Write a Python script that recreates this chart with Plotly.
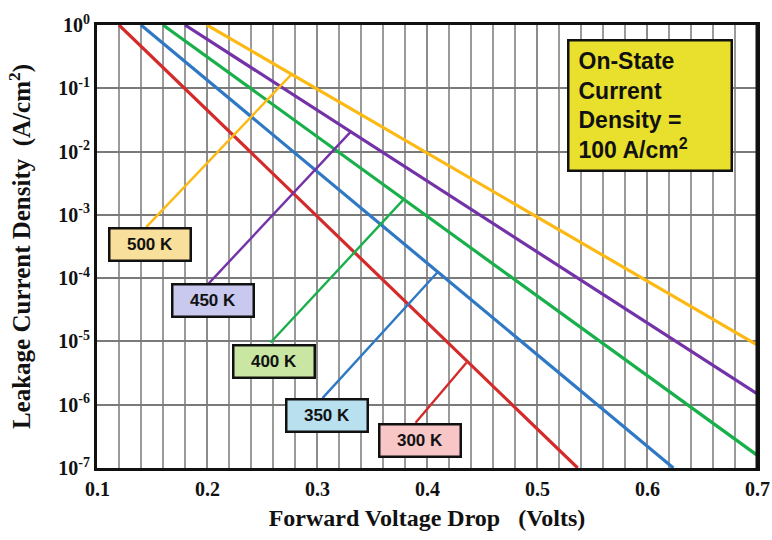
import numpy as np
import plotly.graph_objects as go

# Leakage current density vs forward voltage drop, one straight line (on log scale) per temperature
temps = ["300 K", "350 K", "400 K", "450 K", "500 K"]
colors = ["#D42A2A", "#2F78C4", "#19B04B", "#7432A8", "#FDB913"]
box_fills = ["#F8C6C6", "#B9E0EF", "#C9E6A2", "#C9C8EE", "#F8DF9C"]

v_start = [0.12, 0.14, 0.16, 0.18, 0.20]
j_start = [1.0, 1.0, 1.0, 1.0, 1.0]
v_end = [0.537, 0.624, 0.70, 0.70, 0.70]
j_end = [1e-7, 1e-7, 1.6e-7, 1.5e-6, 8.8e-6]

# leader lines from each label box to its curve
lead_v0 = [0.3896, 0.305, 0.2578, 0.2014, 0.1447]
lead_j0 = [5.2e-7, 1.27e-6, 9.6e-6, 8.2e-5, 6.4e-4]
lead_v1 = [0.4358, 0.410, 0.379, 0.331, 0.277]
lead_j1 = [4.6e-6, 1.26e-4, 1.77e-3, 2.08e-2, 0.167]

# label box centres
label_v = [0.3936, 0.309, 0.2608, 0.2053, 0.1486]
label_j = [2.75e-7, 6.7e-7, 4.86e-6, 4.37e-5, 3.37e-4]

x_ticks = [0.1, 0.2, 0.3, 0.4, 0.5, 0.6, 0.7]
y_exps = [0, -1, -2, -3, -4, -5, -6, -7]

fig = go.Figure()

for i in range(len(temps)):
    fig.add_trace(go.Scatter(
        x=[v_start[i], v_end[i]], y=[j_start[i], j_end[i]],
        mode="lines", line=dict(color=colors[i], width=3.2),
        name=temps[i], showlegend=False, hoverinfo="skip"))
    fig.add_trace(go.Scatter(
        x=[lead_v0[i], lead_v1[i]], y=[lead_j0[i], lead_j1[i]],
        mode="lines", line=dict(color=colors[i], width=2.4),
        showlegend=False, hoverinfo="skip"))
    fig.add_annotation(
        x=label_v[i], y=np.log10(label_j[i]), xref="x", yref="y",
        text="<b>" + temps[i] + "</b>", showarrow=False,
        font=dict(family="Liberation Sans", size=17, color="#111111"),
        bgcolor=box_fills[i], bordercolor="#111111", borderwidth=2.5,
        borderpad=1, width=77, height=28, xanchor="center", yanchor="middle")

fig.add_annotation(
    x=0.6028, y=-1.268, xref="x", yref="y",
    text="<b>On-State<br>Current<br>Density =<br>100 A/cm<sup>2</sup></b>",
    showarrow=False, align="left",
    font=dict(family="Liberation Sans", size=23, color="#111111"),
    bgcolor="#E8E02C", bordercolor="#111111", borderwidth=2.5,
    borderpad=9, width=143, height=110, xanchor="center", yanchor="middle")

serif_bold = dict(family="Liberation Serif", size=20, color="#111111", weight="bold")

# x tick labels written beneath the axis so the last one may sit past the frame
for v in x_ticks:
    fig.add_annotation(
        x=v, y=0, xref="x", yref="paper", text=f"{v:.1f}", showarrow=False,
        font=serif_bold, xanchor="center", yanchor="middle", yshift=-21)

# right-hand edge of the heavy frame
fig.add_shape(type="line", xref="paper", yref="paper", x0=1, x1=1, y0=0, y1=1,
              line=dict(color="#111111", width=3), layer="above")

fig.update_layout(
    width=772, height=540,
    margin=dict(l=97, r=12, t=16, b=72),
    paper_bgcolor="white", plot_bgcolor="white",
    xaxis=dict(
        range=[0.1, 0.7], tickvals=x_ticks, showticklabels=False,
        showgrid=True, gridcolor="#8C8C8C", gridwidth=1.5,
        minor=dict(dtick=0.02, tick0=0.1, showgrid=True, gridcolor="#9A9A9A", gridwidth=1.5),
        showline=True, linecolor="#111111", linewidth=3, mirror=True,
        ticks="", zeroline=False,
        title=dict(text="Forward Voltage Drop   (Volts)",
                   font=dict(family="Liberation Serif", size=24, color="#111111", weight="bold"),
                   standoff=40)),
    yaxis=dict(
        type="log", range=[-7, 0],
        tickvals=[10.0 ** e for e in y_exps],
        ticktext=[f"10<sup>{e}</sup>" for e in y_exps],
        showgrid=True, gridcolor="#7A7A7A", gridwidth=1.5,
        showline=True, linecolor="#111111", linewidth=3, mirror=True,
        ticks="", tickfont=serif_bold, zeroline=False,
        title=dict(text="Leakage Current Density  (A/cm<sup>2</sup>)",
                   font=dict(family="Liberation Serif", size=25, color="#111111", weight="bold"),
                   standoff=21)),
)

fig.write_html("out.html")
